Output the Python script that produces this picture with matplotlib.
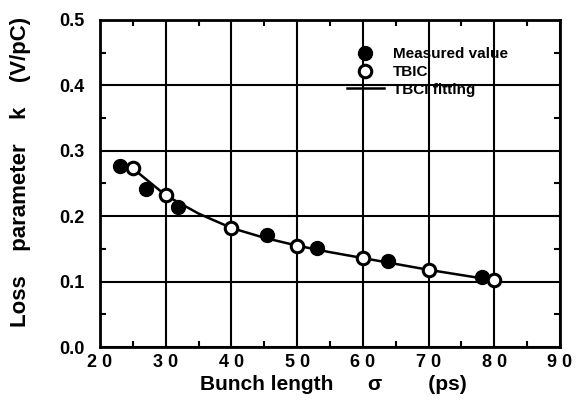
"""Loss parameter versus bunch length: measurement, TBCI values and fit."""

import matplotlib.pyplot as plt
from matplotlib.ticker import MultipleLocator

# measured loss parameter
measured_sigma = [23.0, 27.0, 31.9, 45.4, 53.0, 63.9, 78.2]
measured_k = [0.277, 0.241, 0.214, 0.171, 0.151, 0.132, 0.107]

# TBCI calculation
tbci_sigma = [25, 30, 40, 50, 60, 70, 80]
tbci_k = [0.273, 0.232, 0.182, 0.155, 0.136, 0.118, 0.102]

# fitted curve through the TBCI values
fit_sigma = [25, 30, 35, 40, 45, 50, 55, 60, 65, 70, 75, 80]
fit_k = [0.273, 0.232, 0.204, 0.182, 0.167, 0.155, 0.145, 0.136, 0.127, 0.118, 0.110, 0.102]

x_ticks = [20, 30, 40, 50, 60, 70, 80, 90]
y_ticks = [0.0, 0.1, 0.2, 0.3, 0.4, 0.5]

plt.rcParams["font.family"] = ["Liberation Sans", "DejaVu Sans"]
plt.rcParams["font.weight"] = "bold"

fig = plt.figure(figsize=(5.76, 4.19), dpi=100)
ax = fig.add_axes([100 / 576, 1 - 347 / 419, 460 / 576, 327 / 419])

ax.plot(fit_sigma, fit_k, color="black", lw=1.8, label="TBCI fitting", zorder=2)
ax.plot(measured_sigma, measured_k, "o", color="black", ms=10, label="Measured value", zorder=3)
ax.plot(tbci_sigma, tbci_k, "o", mfc="white", mec="black", mew=2.2, ms=9, label="TBIC", zorder=4)

ax.set_xlim(20, 90)
ax.set_ylim(0, 0.5)
ax.set_xticks(x_ticks)
ax.set_xticklabels([" ".join(str(t)) for t in x_ticks], fontsize=13, fontweight="bold")
ax.set_yticks(y_ticks)
ax.set_yticklabels([f"{t:.1f}" for t in y_ticks], fontsize=13, fontweight="bold")
ax.xaxis.set_minor_locator(MultipleLocator(5))
ax.yaxis.set_minor_locator(MultipleLocator(0.05))
ax.tick_params(which="both", direction="in", top=True, right=True, width=1.5)
ax.tick_params(which="major", length=0)
ax.tick_params(axis="x", which="major", pad=5)
ax.tick_params(axis="y", which="major", pad=11)
ax.tick_params(which="minor", length=4)
ax.grid(True, which="major", color="black", lw=1.5)
for spine in ax.spines.values():
    spine.set_linewidth(2)

ax.set_xlabel("Bunch length      σ        (ps)", fontsize=15, fontweight="bold")
ax.xaxis.set_label_coords(0.507, -0.085)
ax.set_ylabel("Loss    parameter    k    (V/pC)", fontsize=16, fontweight="bold")
ax.yaxis.set_label_coords(-0.15, 0.535)

handles, labels = ax.get_legend_handles_labels()
order = [1, 2, 0]
leg = ax.legend([handles[i] for i in order], [labels[i] for i in order],
                loc="upper left", bbox_to_anchor=(0.537, 0.917), frameon=False,
                fontsize=11, handlelength=2.4, handletextpad=0.6, labelspacing=0.25,
                borderaxespad=0, borderpad=0)
for text in leg.get_texts():
    text.set_fontweight("bold")

fig.savefig("out.png", dpi=100, facecolor="white")
